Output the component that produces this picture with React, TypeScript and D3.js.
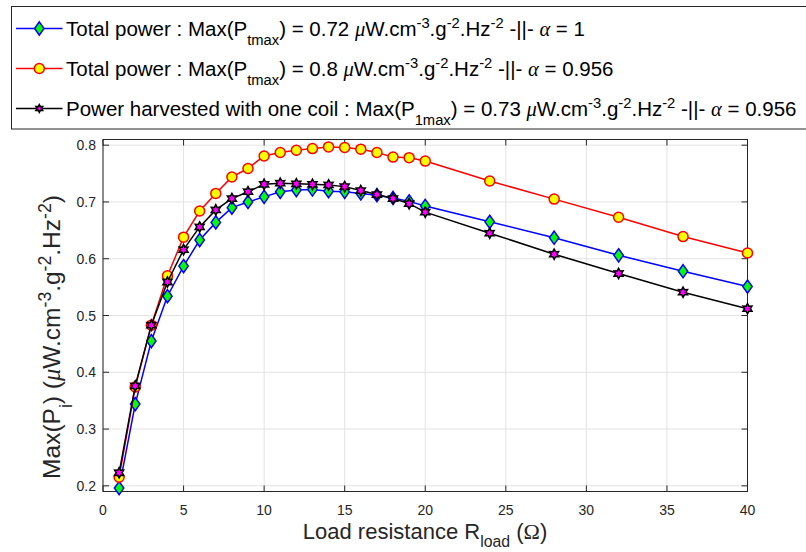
import React, { useEffect, useRef } from "react";
import * as d3 from "d3";

// load resistance (Ohm)
const resistance = [1, 2, 3, 4, 5, 6, 7, 8, 9, 10, 11, 12, 13, 14, 15, 16, 17, 18, 19, 20, 24, 28, 32, 36, 40];
// total power, alpha = 1
const totalPowerA1 = [
  0.196, 0.344, 0.455, 0.534, 0.587, 0.633, 0.664, 0.69, 0.7, 0.709, 0.718, 0.721, 0.722,
  0.719, 0.718, 0.715, 0.712, 0.707, 0.701, 0.693, 0.665, 0.637, 0.606, 0.578, 0.551,
];
// total power, alpha = 0.956
const totalPowerA0956 = [
  0.215, 0.374, 0.483, 0.57, 0.638, 0.684, 0.715, 0.744, 0.759, 0.781, 0.787, 0.791, 0.794,
  0.797, 0.796, 0.793, 0.787, 0.779, 0.778, 0.772, 0.737, 0.705, 0.673, 0.639, 0.61,
];
// power harvested with one coil, alpha = 0.956
const oneCoilPower = [
  0.223, 0.376, 0.483, 0.559, 0.616, 0.656, 0.686, 0.706, 0.718, 0.731, 0.733, 0.732, 0.731,
  0.73, 0.727, 0.72, 0.713, 0.706, 0.697, 0.682, 0.645, 0.608, 0.574, 0.541, 0.512,
];
const xTicks = [0, 5, 10, 15, 20, 25, 30, 35, 40];
const yTicks = [0.2, 0.3, 0.4, 0.5, 0.6, 0.7, 0.8];

type Part = { t: string; k?: "sub" | "sup" | "greek" | "sym" };

const legendRows: { color: string; fill: string; marker: string; parts: Part[] }[] = [
  {
    color: "#0000ff",
    fill: "#00ff00",
    marker: "diamond",
    parts: [
      { t: "Total power : Max(P" }, { t: "tmax", k: "sub" }, { t: ") = 0.72 " }, { t: "μ", k: "greek" },
      { t: "W.cm" }, { t: "-3", k: "sup" }, { t: ".g" }, { t: "-2", k: "sup" }, { t: ".Hz" }, { t: "-2", k: "sup" },
      { t: " -||- " }, { t: "α", k: "greek" }, { t: " = 1" },
    ],
  },
  {
    color: "#ff0000",
    fill: "#ffff00",
    marker: "circle",
    parts: [
      { t: "Total power : Max(P" }, { t: "tmax", k: "sub" }, { t: ") = 0.8 " }, { t: "μ", k: "greek" },
      { t: "W.cm" }, { t: "-3", k: "sup" }, { t: ".g" }, { t: "-2", k: "sup" }, { t: ".Hz" }, { t: "-2", k: "sup" },
      { t: " -||- " }, { t: "α", k: "greek" }, { t: " = 0.956" },
    ],
  },
  {
    color: "#000000",
    fill: "#ff00ff",
    marker: "hexagram",
    parts: [
      { t: "Power harvested with one coil : Max(P" }, { t: "1max", k: "sub" }, { t: ") = 0.73 " }, { t: "μ", k: "greek" },
      { t: "W.cm" }, { t: "-3", k: "sup" }, { t: ".g" }, { t: "-2", k: "sup" }, { t: ".Hz" }, { t: "-2", k: "sup" },
      { t: " -||- " }, { t: "α", k: "greek" }, { t: " = 0.956" },
    ],
  },
];

const FONT = "'Liberation Sans', Arial, Helvetica, sans-serif";
const SERIF = "'Liberation Serif', 'Times New Roman', serif";

// marker paths centred on 0,0
const markerPath = (kind: string, scale = 1) => {
  if (kind === "circle")
    return d3.arc()({ innerRadius: 0, outerRadius: 5 * scale, startAngle: 0, endAngle: 2 * Math.PI }) as string;
  if (kind === "diamond") {
    const w = 4.7 * scale;
    const h = 6.6 * scale;
    return `M0,${-h}L${w},0L0,${h}L${-w},0Z`;
  }
  // six pointed star
  const pts: [number, number][] = [];
  for (let i = 0; i < 12; i++) {
    const r = (i % 2 === 0 ? 5.2 : 2.9) * scale;
    const a = (i * Math.PI) / 6 - Math.PI / 2;
    pts.push([r * Math.cos(a), r * Math.sin(a)]);
  }
  return d3.line()(pts) + "Z";
};

const richText = (text: any, parts: Part[], size: number, subShift = 0.48) => {
  const small = size * 0.72;
  let shift = 0;
  parts.forEach((p) => {
    const target = p.k === "sub" ? size * subShift : p.k === "sup" ? -size * 0.38 : 0;
    const ts = text.append("tspan").attr("dy", target - shift).text(p.t);
    ts.attr("font-size", p.k === "sub" || p.k === "sup" ? small : size);
    if (p.k === "greek") ts.attr("font-family", SERIF).attr("font-style", "italic");
    if (p.k === "sym") ts.attr("font-family", SERIF);
    shift = target;
  });
};

const App = () => {
  const svgRef = useRef<SVGSVGElement>(null);

  useEffect(() => {
    const width = 806;
    const height = 552;
    const plot = { left: 103, right: 747.5, top: 139.5, bottom: 491.5 };

    const svg = d3.select(svgRef.current);
    svg.selectAll("*").remove();
    svg.attr("width", width).attr("height", height);

    const x = d3.scaleLinear().domain([0, 40]).range([plot.left, plot.right]);
    const y = d3.scaleLinear().domain([0.19, 0.81]).range([plot.bottom, plot.top]);

    //grid
    const grid = svg.append("g").attr("stroke", "#e3e3e3").attr("stroke-width", 1);
    xTicks.forEach((t) => {
      grid.append("line").attr("x1", x(t)).attr("x2", x(t)).attr("y1", plot.top).attr("y2", plot.bottom);
    });
    yTicks.forEach((t) => {
      grid.append("line").attr("x1", plot.left).attr("x2", plot.right).attr("y1", y(t)).attr("y2", y(t));
    });

    //axes box with inner ticks
    const axisColor = "#262626";
    const tickLen = 6;
    const box = svg.append("g").attr("stroke", axisColor).attr("stroke-width", 1).attr("fill", "none");
    box
      .append("rect")
      .attr("x", plot.left)
      .attr("y", plot.top)
      .attr("width", plot.right - plot.left)
      .attr("height", plot.bottom - plot.top);
    xTicks.forEach((t) => {
      box.append("line").attr("x1", x(t)).attr("x2", x(t)).attr("y1", plot.bottom).attr("y2", plot.bottom - tickLen);
      box.append("line").attr("x1", x(t)).attr("x2", x(t)).attr("y1", plot.top).attr("y2", plot.top + tickLen);
    });
    yTicks.forEach((t) => {
      box.append("line").attr("x1", plot.left).attr("x2", plot.left + tickLen).attr("y1", y(t)).attr("y2", y(t));
      box.append("line").attr("x1", plot.right).attr("x2", plot.right - tickLen).attr("y1", y(t)).attr("y2", y(t));
    });

    //tick labels
    const labels = svg.append("g").attr("font-family", FONT).attr("font-size", 14).attr("fill", axisColor);
    xTicks.forEach((t) => {
      labels.append("text").attr("x", x(t)).attr("y", plot.bottom + 23).attr("text-anchor", "middle").text(t);
    });
    yTicks.forEach((t) => {
      labels
        .append("text")
        .attr("x", plot.left - 7)
        .attr("y", y(t) + 5)
        .attr("text-anchor", "end")
        .text(d3.format(".1f")(t));
    });

    //axis titles
    const xLabel = svg
      .append("text")
      .attr("font-family", FONT)
      .attr("fill", axisColor)
      .attr("x", 425)
      .attr("y", 539)
      .attr("text-anchor", "middle");
    richText(
      xLabel,
      [{ t: "Load resistance R" }, { t: "load", k: "sub" }, { t: " (" }, { t: "Ω", k: "sym" }, { t: ")" }],
      22,
      0.38,
    );

    const yLabel = svg
      .append("text")
      .attr("font-family", FONT)
      .attr("fill", axisColor)
      .attr("text-anchor", "middle")
      .attr("transform", "translate(60,337) rotate(-90)");
    richText(
      yLabel,
      [
        { t: "Max(P" }, { t: "i", k: "sub" }, { t: ") (" }, { t: "μ", k: "greek" }, { t: "W.cm" }, { t: "-3", k: "sup" },
        { t: ".g" }, { t: "-2", k: "sup" }, { t: ".Hz" }, { t: "-2", k: "sup" }, { t: ")" },
      ],
      24.5,
    );

    //data lines + markers
    const series = [totalPowerA1, totalPowerA0956, oneCoilPower];
    const line = d3
      .line<number>()
      .x((d, i) => x(resistance[i]))
      .y((d) => y(d));
    series.forEach((values, s) => {
      const row = legendRows[s];
      const g = svg.append("g");
      g.append("path")
        .attr("d", line(values))
        .attr("fill", "none")
        .attr("stroke", row.color)
        .attr("stroke-width", 1.5);
      const path = markerPath(row.marker);
      g.selectAll("path.m")
        .data(values)
        .join("path")
        .attr("class", "m")
        .attr("d", path)
        .attr("transform", (d, i) => `translate(${x(resistance[i])},${y(d)})`)
        .attr("fill", row.fill)
        .attr("stroke", row.color)
        .attr("stroke-width", 1.5);
    });

    //legend
    const legend = svg.append("g");
    legend
      .append("rect")
      .attr("x", 11.5)
      .attr("y", 6.5)
      .attr("width", 830)
      .attr("height", 122.5)
      .attr("fill", "#ffffff")
      .attr("stroke", "#262626")
      .attr("stroke-width", 1);
    const rowY = [28.5, 68.5, 108.5];
    legendRows.forEach((row, i) => {
      const ry = rowY[i];
      legend
        .append("line")
        .attr("x1", 16)
        .attr("x2", 62.5)
        .attr("y1", ry)
        .attr("y2", ry)
        .attr("stroke", row.color)
        .attr("stroke-width", 1.5);
      legend
        .append("path")
        .attr("d", markerPath(row.marker, row.marker === "hexagram" ? 0.75 : 1))
        .attr("transform", `translate(39.3,${ry})`)
        .attr("fill", row.fill)
        .attr("stroke", row.color)
        .attr("stroke-width", 1.5);
      const txt = legend.append("text").attr("font-family", FONT).attr("fill", "#000").attr("x", 66).attr("y", ry + 7);
      richText(txt, row.parts, 20.5);
    });
  }, []);

  return <svg ref={svgRef} style={{ position: "absolute", left: 0, top: 0 }} />;
};

export default App;
